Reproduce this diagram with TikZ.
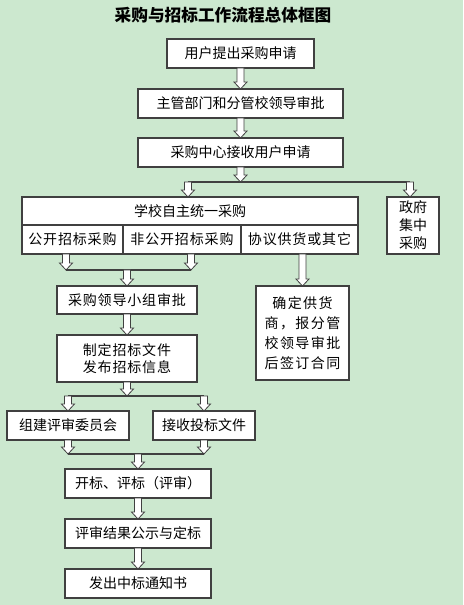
\documentclass[tikz,border=0pt]{standalone}
\usepackage{fontspec}
\setmainfont{Noto Sans CJK SC}
\usetikzlibrary{calc}
\definecolor{bggreen}{RGB}{204,232,207}
\definecolor{edge}{RGB}{64,64,64}

\newcommand{\flowdown}[2]{%
\draw[hollow] ($#1+(-3.5,0)$) -- ($#2+(-3.5,-7)$) -- ($#2+(-6.5,-7)$) -- #2
  -- ($#2+(6.5,-7)$) -- ($#2+(3.5,-7)$) -- ($#1+(3.5,0)$) -- cycle;}

\begin{document}
\begin{tikzpicture}[x=0.75pt,y=-0.75pt,
  box/.style={draw=edge,fill=white,line width=0.9pt,inner sep=0pt,outer sep=0pt,
    minimum height=21.75pt,align=center,font=\fontsize{10.5}{13}\selectfont},
  cell/.style={box,font=\fontsize{10.5}{13}\selectfont\addfontfeature{LetterSpace=6}},
  hollow/.style={draw=edge,fill=white,line width=0.6pt,line join=miter},
  branch/.style={draw=edge,line width=0.9pt}]
\fill[bggreen] (0,0) rectangle (463,605);
\useasboundingbox (0,0) rectangle (463,605);

\node (title) at (223,15) [font=\fontsize{12.5}{15}\selectfont\bfseries] {采购与招标工作流程总体框图};

\node (user) at (240.5,53.5) [box,minimum width=110.25pt] {用户提出采购申请};
\node (approve) at (240.5,103.5) [box,minimum width=153.75pt] {主管部门和分管校领导审批};
\node (center) at (240.5,152.5) [box,minimum width=153.75pt] {采购中心接收用户申请};

\node (school) at (190,211) [box,minimum width=252pt,minimum height=21pt] {学校自主统一采购};
\node (open) at (72.5,239.5) [cell,minimum width=75.75pt] {公开招标采购};
\node (nonopen) at (182,239.5) [cell,minimum width=88.5pt] {非公开招标采购};
\node (agreement) at (299.5,239.5) [cell,minimum width=87.75pt] {协议供货或其它};
\node (gov) at (413,225.5) [box,minimum width=39pt,minimum height=42.75pt,
  font=\fontsize{10.5}{13.5}\selectfont] {政府\\集中\\采购};

\node (group) at (127,300) [cell,minimum width=105pt,minimum height=21pt] {采购领导小组审批};
\node (docs) at (127,358.5) [box,minimum width=105pt,minimum height=35.25pt,
  font=\fontsize{10.5}{12.75}\selectfont\addfontfeature{LetterSpace=6}] {制定招标文件\\发布招标信息};
\node (supplier) at (302.5,333) [box,minimum width=69.75pt,minimum height=70.5pt,
  font=\fontsize{10.5}{15}\selectfont\addfontfeature{LetterSpace=10}] {确定供货\\商，报分管\\校领导审批\\后签订合同};

\node (committee) at (68,425.5) [box,minimum width=91.5pt] {组建评审委员会};
\node (bids) at (204,425.5) [box,minimum width=76.5pt] {接收投标文件};
\node (opening) at (138,483.5) [box,minimum width=109.5pt] {开标、评标（评审）};
\node (result) at (138,533.5) [box,minimum width=109.5pt] {评审结果公示与定标};
\node (notice) at (138,583.5) [box,minimum width=109.5pt] {发出中标通知书};

\coordinate (j1) at (240.5,182);
\coordinate (j1l) at (188,182);
\coordinate (j1r) at (410,182);
\coordinate (j2l) at (66,270);
\coordinate (j2r) at (191,270);
\coordinate (j3) at (127,396);
\coordinate (j4) at (138,454);

\draw[branch] (j1l) -- (j1r);
\draw[branch] (j2l) -- (j2r);
\draw[branch] (committee.north |- j3) -- (bids.north |- j3);
\draw[branch] (committee.south |- j4) -- (bids.south |- j4);

\flowdown{(user.south)}{(approve.north)}
\flowdown{(approve.south)}{(center.north)}
\flowdown{(center.south)}{(j1)}
\flowdown{(j1l)}{(j1l |- school.north)}
\flowdown{(j1r)}{(j1r |- gov.north)}
\flowdown{(j2l |- open.south)}{(j2l)}
\flowdown{(j2r |- nonopen.south)}{(j2r)}
\flowdown{(group.north |- j2l)}{(group.north)}
\flowdown{(supplier.north |- agreement.south)}{(supplier.north)}
\flowdown{(group.south)}{(docs.north)}
\flowdown{(docs.south)}{(j3)}
\flowdown{(committee.north |- j3)}{(committee.north)}
\flowdown{(bids.north |- j3)}{(bids.north)}
\flowdown{(committee.south)}{(committee.south |- j4)}
\flowdown{(bids.south)}{(bids.south |- j4)}
\flowdown{(j4)}{(opening.north)}
\flowdown{(opening.south)}{(result.north)}
\flowdown{(result.south)}{(notice.north)}

\end{tikzpicture}
\end{document}
